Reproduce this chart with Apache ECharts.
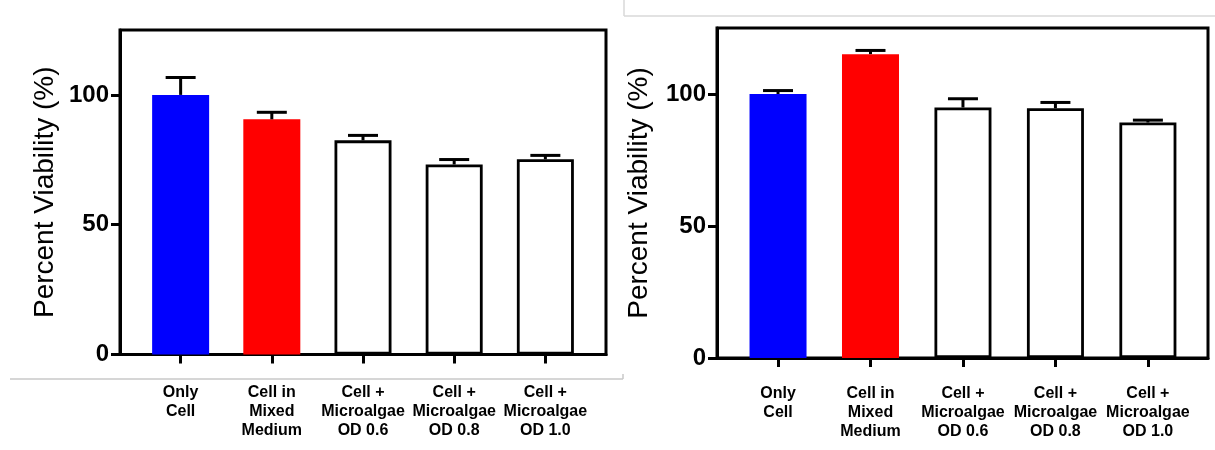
<!DOCTYPE html>
<html><head><meta charset="utf-8">
<script src="https://cdn.jsdelivr.net/npm/echarts@6/dist/echarts.min.js"></script>
<style>html,body{margin:0;padding:0;background:#fff}#c{width:1215px;height:450px}</style>
</head><body><div id="c"></div>
<script>
const categories = ['Only\nCell', 'Cell in\nMixed\nMedium', 'Cell +\nMicroalgae\nOD 0.6', 'Cell +\nMicroalgae\nOD 0.8', 'Cell +\nMicroalgae\nOD 1.0'];
const leftMeans = [100, 90.6, 82.5, 73.2, 75.2];
const leftErrors = [6.7, 2.7, 1.9, 1.9, 1.5];
const rightMeans = [100, 115.1, 94.9, 94.6, 89.2];
const rightErrors = [1.3, 1.4, 3.3, 2.2, 0.9];
const yTicks = [0, 50, 100];
const barColors = ['#0000ff', '#ff0000', '#ffffff', '#ffffff', '#ffffff'];
const yName = 'Percent Viability (%)';

const FONT = '"Liberation Sans", Arial, sans-serif';
const chart = echarts.init(document.getElementById('c'), null, {renderer: 'canvas'});

const grids = [
  {left: 120, right: 609, top: 30, bottom: 95.5, xmin: -0.665, xmax: 4.665, labelMargin: 29, nameGap: 61},
  {left: 717, right: 7, top: 28, bottom: 92, xmin: -0.66, xmax: 4.65, labelMargin: 26, nameGap: 64}
];
const panels = [[leftMeans, leftErrors], [rightMeans, rightErrors]];

const option = {
  animation: false,
  backgroundColor: '#fff',
  grid: grids.map(g => ({left: g.left, right: g.right, top: g.top, bottom: g.bottom, show: true,
    borderColor: '#000', borderWidth: 3, backgroundColor: 'transparent', containLabel: false})),
  xAxis: grids.map((g, i) => ({
    type: 'value', gridIndex: i, min: g.xmin, max: g.xmax,
    splitLine: {show: false},
    axisLine: {show: true, onZero: false, lineStyle: {color: '#000', width: 3}},
    axisTick: {show: true, customValues: [0, 1, 2, 3, 4], length: 9, lineStyle: {color: '#000', width: 3}},
    axisLabel: {show: true, customValues: [0, 1, 2, 3, 4], margin: g.labelMargin,
      formatter: v => categories[Math.round(v)] || '',
      fontFamily: FONT, fontWeight: 'bold', fontSize: 16, lineHeight: 19, color: '#000', align: 'center', verticalAlign: 'top'}
  })),
  yAxis: grids.map((g, i) => ({
    type: 'value', gridIndex: i, min: 0, max: 125,
    name: yName, nameLocation: 'middle', nameGap: g.nameGap, nameRotate: 90,
    nameTextStyle: {fontFamily: FONT, fontSize: 28, color: '#000'},
    splitLine: {show: false},
    axisLine: {show: true, onZero: false, lineStyle: {color: '#000', width: 3}},
    axisTick: {show: true, customValues: yTicks, length: 9, lineStyle: {color: '#000', width: 3}},
    axisLabel: {show: true, customValues: yTicks, margin: 11, fontFamily: FONT, fontWeight: 'bold', fontSize: 24, color: '#000'}
  })),
  series: []
};

panels.forEach(([means, errs], p) => {
  option.series.push({
    type: 'bar', xAxisIndex: p, yAxisIndex: p, barWidth: 57,
    data: means.map((v, i) => ({
      value: [i, v],
      itemStyle: {color: barColors[i], borderColor: barColors[i] === '#ffffff' ? '#000' : barColors[i], borderWidth: barColors[i] === '#ffffff' ? 2.8 : 3}
    })),
    z: 2
  });
  option.series.push({
    type: 'custom', xAxisIndex: p, yAxisIndex: p, z: 3,
    data: means.map((v, i) => [i, v, v + errs[i]]),
    renderItem: (params, api) => {
      const base = api.coord([api.value(0), api.value(1)]);
      const top = api.coord([api.value(0), api.value(2)]);
      const style = {stroke: '#000', lineWidth: 3, fill: null};
      return {type: 'group', children: [
        {type: 'line', shape: {x1: base[0], y1: base[1], x2: top[0], y2: top[1]}, style},
        {type: 'line', shape: {x1: top[0] - 15, y1: top[1], x2: top[0] + 15, y2: top[1]}, style}
      ]};
    }
  });
});

option.graphic = [
  {type: 'line', shape: {x1: 10, y1: 379, x2: 623, y2: 379}, style: {stroke: '#c8c8c8', lineWidth: 1.5}, silent: true},
  {type: 'line', shape: {x1: 623, y1: 374, x2: 623, y2: 379}, style: {stroke: '#c8c8c8', lineWidth: 1.5}, silent: true},
  {type: 'line', shape: {x1: 624, y1: 0, x2: 624, y2: 16}, style: {stroke: '#d8d8d8', lineWidth: 1.5}, silent: true},
  {type: 'line', shape: {x1: 624, y1: 16, x2: 1215, y2: 16}, style: {stroke: '#d8d8d8', lineWidth: 1.5}, silent: true}
];

chart.setOption(option);
</script></body></html>
